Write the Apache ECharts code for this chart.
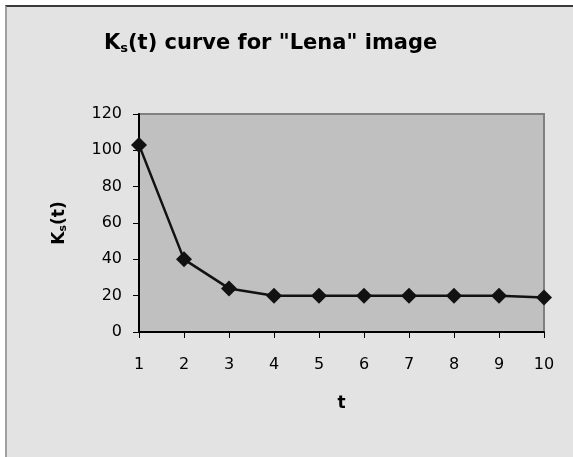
<!DOCTYPE html>
<html><head><meta charset="utf-8">
<script src="https://cdn.jsdelivr.net/npm/echarts@6/dist/echarts.min.js"></script>
<style>
html,body{margin:0;padding:0;background:#fff;width:573px;height:457px;overflow:hidden;}
#c{position:absolute;left:5px;top:5px;width:568px;height:452px;box-sizing:border-box;border-top:2px solid #3a3a3a;border-left:2px solid #a0a0a0;background:#e3e3e3;}
</style></head>
<body><div id="c"></div>
<script>
const tValues = [1,2,3,4,5,6,7,8,9,10];
const ksValues = [103,40,24,20,20,20,20,20,20,19];
const yTicks = {min:0, max:120, interval:20};
const xTicks = {min:1, max:10, interval:1};

const chart = echarts.init(document.getElementById('c'), null, {renderer:'canvas'});
const font = 'DejaVu Sans, Arial, sans-serif';
chart.setOption({
  backgroundColor:'#e3e3e3',
  animation:false,
  title:{
    text:'{a|K}{s|s}{a|(t) curve for "Lena" image}',
    left:92, top:20,
    textStyle:{
      rich:{
        a:{fontFamily:font,fontWeight:'bold',fontSize:21,color:'#000'},
        s:{fontFamily:font,fontWeight:'bold',fontSize:13,color:'#000',verticalAlign:'bottom',padding:[10,0,0,0]}
      }
    }
  },
  grid:{left:132,top:107,right:29,bottom:125,show:true,backgroundColor:'#c0c0c0',borderColor:'#808080',borderWidth:2},
  xAxis:{
    type:'value', min:xTicks.min, max:xTicks.max, interval:xTicks.interval,
    name:'t', nameLocation:'middle', nameGap:63,
    nameTextStyle:{fontFamily:font,fontWeight:'bold',fontSize:17,color:'#000'},
    axisLine:{show:true,onZero:false,lineStyle:{color:'#000',width:2}},
    axisTick:{show:true,length:6,lineStyle:{color:'#000',width:1}},
    axisLabel:{margin:25,fontFamily:font,fontSize:16,color:'#000'},
    splitLine:{show:false}
  },
  yAxis:{
    type:'value', min:yTicks.min, max:yTicks.max, interval:yTicks.interval,
    name:'{a|K}{s|s}{a|(t)}', nameLocation:'middle', nameGap:70, nameRotate:90,
    nameTextStyle:{rich:{
      a:{fontFamily:font,fontWeight:'bold',fontSize:17,color:'#000'},
      s:{fontFamily:font,fontWeight:'bold',fontSize:11,color:'#000',verticalAlign:'bottom',padding:[8,0,0,0]}
    }},
    axisLine:{show:true,lineStyle:{color:'#000',width:2}},
    axisTick:{show:true,length:6,lineStyle:{color:'#000',width:1}},
    axisLabel:{margin:17,fontFamily:font,fontSize:16,color:'#000'},
    splitLine:{show:false}
  },
  series:[{
    type:'line',
    data:tValues.map((t,i)=>[t,ksValues[i]]),
    symbol:'diamond', symbolSize:16,
    itemStyle:{color:'#111'},
    lineStyle:{color:'#111',width:2.5},
    clip:false
  }]
});
</script></body></html>
